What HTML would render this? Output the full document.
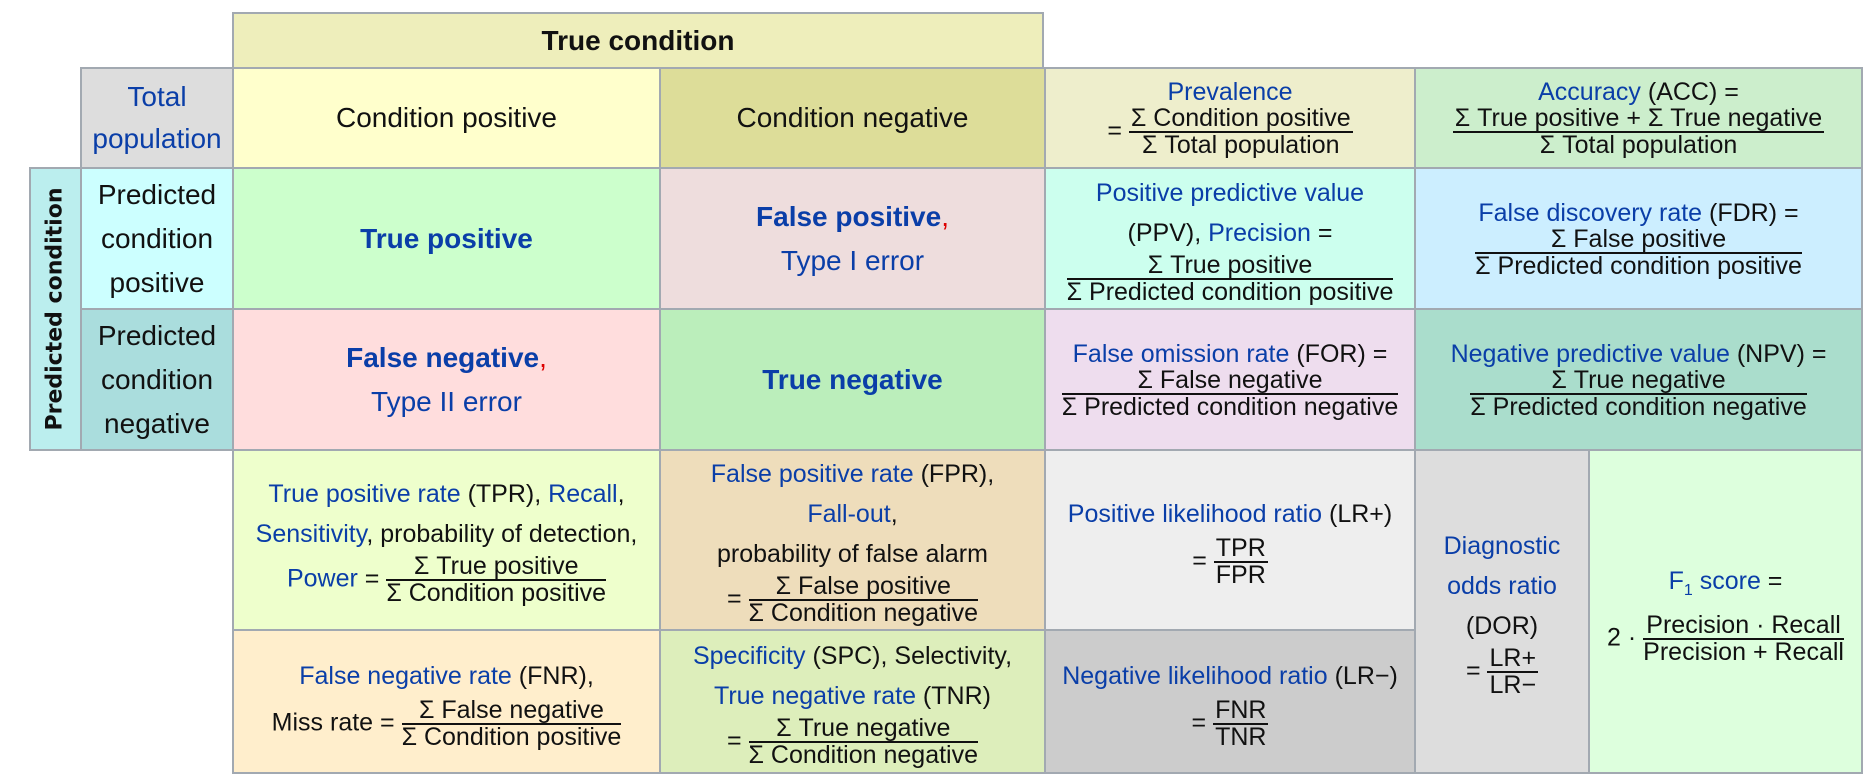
<!DOCTYPE html>
<html><head><meta charset="utf-8"><style>
body{margin:0;width:1868px;height:776px;background:#fff;position:relative;overflow:hidden;font-family:"Liberation Sans",Arial,sans-serif;font-size:25px;color:#111}
.c{position:absolute;box-sizing:border-box;border:2px solid #a2a9b1;display:flex;align-items:center;justify-content:center;text-align:center;line-height:44px}
.big{font-size:28px}
.l{color:#0a3ea8}
.f{display:inline-flex;flex-direction:column;vertical-align:middle;line-height:25px;text-align:center}
.f>span:first-child{border-bottom:2px solid #111;padding:0 2px}
.t{line-height:28px}
b{font-weight:bold}
.r{color:#d00}
</style></head><body>
<div class="c big" style="left:232px;top:12px;width:812px;height:57px;background:#eeeebb"><b>True condition</b></div>
<div class="c" style="left:29px;top:167px;width:53px;height:284px;background:#bbeeee"><b style="transform:rotate(-90deg);white-space:nowrap;display:block;font-size:22px;font-family:'DejaVu Sans',sans-serif">Predicted condition</b></div>
<div class="c l big" style="left:80px;top:67px;width:154px;height:102px;background:#dddddd;line-height:42px">Total<br>population</div>
<div class="c big" style="left:232px;top:67px;width:429px;height:102px;background:#ffffcc">Condition positive</div>
<div class="c big" style="left:659px;top:67px;width:387px;height:102px;background:#dddd99">Condition negative</div>
<div class="c t" style="left:1044px;top:67px;width:372px;height:102px;background:#eeeecc"><div><span class="l">Prevalence</span><br>= <span class="f"><span>Σ Condition positive</span><span>Σ Total population</span></span></div></div>
<div class="c t" style="left:1414px;top:67px;width:449px;height:102px;background:#cceecc"><div><span class="l">Accuracy</span> (ACC) =<br><span class="f"><span>Σ True positive + Σ True negative</span><span>Σ Total population</span></span></div></div>
<div class="c big" style="left:80px;top:167px;width:154px;height:143px;background:#ccffff">Predicted<br>condition<br>positive</div>
<div class="c big" style="left:80px;top:308px;width:154px;height:143px;background:#aadddd">Predicted<br>condition<br>negative</div>
<div class="c l big" style="left:232px;top:167px;width:429px;height:143px;background:#ccffcc"><b>True positive</b></div>
<div class="c l big" style="left:659px;top:167px;width:387px;height:143px;background:#eedddd"><div><b>False positive</b><span class="r">,</span><br>Type I error</div></div>
<div class="c l big" style="left:232px;top:308px;width:429px;height:143px;background:#ffdddd"><div><b>False negative</b><span class="r">,</span><br>Type II error</div></div>
<div class="c l big" style="left:659px;top:308px;width:387px;height:143px;background:#bbeebb"><b>True negative</b></div>
<div class="c t" style="left:1044px;top:167px;width:372px;height:143px;background:#ccffee;line-height:40px"><div><span class="l">Positive predictive value</span><br>(PPV), <span class="l">Precision</span> =<br><span class="f"><span>Σ True positive</span><span>Σ Predicted condition positive</span></span></div></div>
<div class="c t" style="left:1414px;top:167px;width:449px;height:143px;background:#cceeff"><div><span class="l">False discovery rate</span> (FDR) =<br><span class="f"><span>Σ False positive</span><span>Σ Predicted condition positive</span></span></div></div>
<div class="c t" style="left:1044px;top:308px;width:372px;height:143px;background:#eeddee"><div><span class="l">False omission rate</span> (FOR) =<br><span class="f"><span>Σ False negative</span><span>Σ Predicted condition negative</span></span></div></div>
<div class="c t" style="left:1414px;top:308px;width:449px;height:143px;background:#aaddcc"><div><span class="l">Negative predictive value</span> (NPV) =<br><span class="f"><span>Σ True negative</span><span>Σ Predicted condition negative</span></span></div></div>
<div class="c" style="left:232px;top:449px;width:429px;height:182px;background:#eeffcc;line-height:40px"><div><span class="l">True positive rate</span> (TPR), <span class="l">Recall</span>,<br><span class="l">Sensitivity</span>, probability of detection,<br><span class="l">Power</span> = <span class="f"><span>Σ True positive</span><span>Σ Condition positive</span></span></div></div>
<div class="c" style="left:659px;top:449px;width:387px;height:182px;background:#eeddbb;line-height:40px"><div><span class="l">False positive rate</span> (FPR),<br><span class="l">Fall-out</span>,<br>probability of false alarm<br>= <span class="f"><span>Σ False positive</span><span>Σ Condition negative</span></span></div></div>
<div class="c" style="left:1044px;top:449px;width:372px;height:182px;background:#eeeeee"><div><span class="l">Positive likelihood ratio</span> (LR+)<br>= <span class="f"><span>TPR</span><span>FPR</span></span></div></div>
<div class="c" style="left:232px;top:629px;width:429px;height:145px;background:#ffeecc"><div><span class="l">False negative rate</span> (FNR),<br>Miss rate = <span class="f"><span>Σ False negative</span><span>Σ Condition positive</span></span></div></div>
<div class="c" style="left:659px;top:629px;width:387px;height:145px;background:#ddeebb;line-height:40px"><div><span class="l">Specificity</span> (SPC), Selectivity,<br><span class="l">True negative rate</span> (TNR)<br>= <span class="f"><span>Σ True negative</span><span>Σ Condition negative</span></span></div></div>
<div class="c" style="left:1044px;top:629px;width:372px;height:145px;background:#cccccc"><div><span class="l">Negative likelihood ratio</span> (LR−)<br>= <span class="f"><span>FNR</span><span>TNR</span></span></div></div>
<div class="c" style="left:1414px;top:449px;width:176px;height:325px;background:#dddddd;line-height:40px"><div><span class="l">Diagnostic<br>odds ratio</span><br>(DOR)<br>= <span class="f"><span>LR+</span><span>LR−</span></span></div></div>
<div class="c" style="left:1588px;top:449px;width:275px;height:325px;background:#ddffdd"><div><span class="l">F<sub style="font-size:16px">1</sub> score</span> =<br>2 · <span class="f"><span>Precision · Recall</span><span>Precision + Recall</span></span></div></div>
</body></html>
